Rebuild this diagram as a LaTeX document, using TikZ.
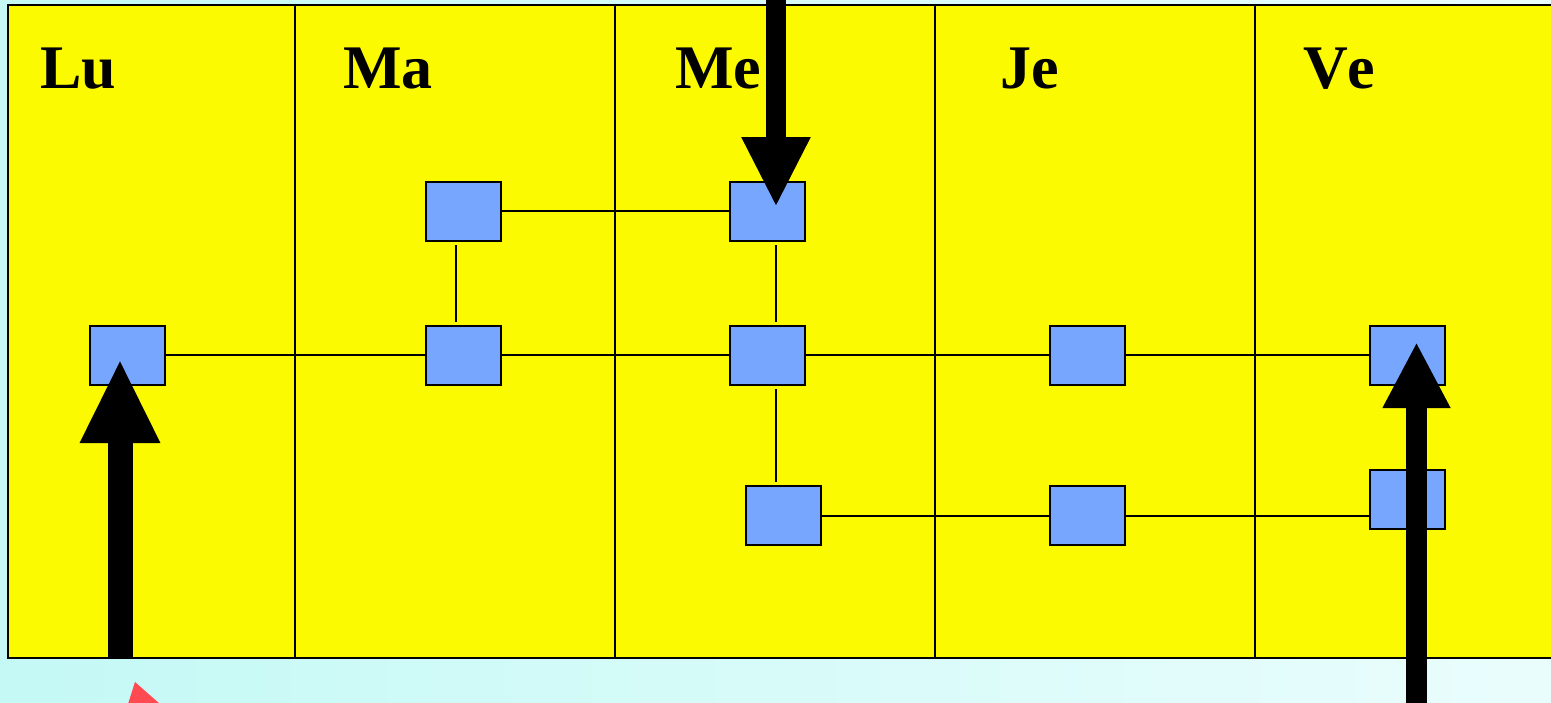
\documentclass[tikz,border=0pt]{standalone}
\usepackage{fontspec}
\setmainfont[Kerning=Off]{Liberation Serif}
\usetikzlibrary{arrows.meta}
\definecolor{bgL}{RGB}{196,249,245}
\definecolor{bgR}{RGB}{234,253,253}
\definecolor{yel}{RGB}{252,250,0}
\definecolor{boxblue}{RGB}{119,166,255}
\definecolor{redtip}{RGB}{255,74,82}
\tikzset{
  blk/.style={draw=black, line width=2.7pt, fill=boxblue, minimum width=75pt, minimum height=59pt, inner sep=0pt},
  day/.style={font=\fontsize{62}{70}\selectfont\bfseries, anchor=base west, inner sep=0pt},
  conn/.style={line width=2pt},
  vconn/.style={line width=2pt, shorten <=3pt, shorten >=3pt},
  divider/.style={line width=2pt},
  bigarrow/.style n args={3}{line width=#1, -{Triangle[length=#2,width=#3]}},
}
\begin{document}
\begin{tikzpicture}[x=1pt,y=-1pt]
\useasboundingbox (0,0) rectangle (1551,702);
\clip (0,0) rectangle (1551,702);
\shade[left color=bgL, right color=bgR] (0,0) rectangle (1551,702);
% board
\draw[line width=2.8pt, fill=yel] (8,5) rectangle (1570,658);
\foreach \x in {295,615,935,1255} \draw[divider] (\x,5) -- (\x,658);
% labels
\node[day] (lu) at (40,88) {Lu};
\node[day] (ma) at (343,88) {Ma};
\node[day] (me) at (675,88) {Me};
\node[day] (je) at (1000,88) {Je};
\node[day] (ve) at (1303,88) {Ve};
% boxes
\node[blk] (A) at (463.5,211.5) {};
\node[blk] (B) at (767.5,211.5) {};
\node[blk] (C) at (127.5,355.5) {};
\node[blk] (D) at (463.5,355.5) {};
\node[blk] (E) at (767.5,355.5) {};
\node[blk] (F) at (1087.5,355.5) {};
\node[blk] (G) at (1407.5,355.5) {};
\node[blk] (H) at (783.5,515.5) {};
\node[blk] (I) at (1087.5,515.5) {};
\node[blk] (J) at (1407.5,499.5) {};
% connectors
\draw[conn] (A.east |- 0,211) -- (B.west |- 0,211);
\draw[vconn] (A.south -| 456,0) -- (D.north -| 456,0);
\draw[vconn] (B.south -| 776,0) -- (E.north -| 776,0);
\draw[vconn] (E.south -| 776,0) -- (H.north -| 776,0);
\draw[conn] (C.east |- 0,355) -- (D.west |- 0,355);
\draw[conn] (D.east |- 0,355) -- (E.west |- 0,355);
\draw[conn] (E.east |- 0,355) -- (F.west |- 0,355);
\draw[conn] (F.east |- 0,355) -- (G.west |- 0,355);
\draw[conn] (H.east |- 0,516) -- (I.west |- 0,516);
\draw[conn] (I.east |- 0,516) -- (J.west |- 0,516);
% big arrows
\coordinate (topin) at (776,-2);
\coordinate (btip) at (776,207);
\coordinate (luin) at (120,658);
\coordinate (ctip) at (120,359);
\coordinate (vein) at (1416.5,710);
\coordinate (gtip) at (1416.5,342);
\draw[bigarrow={20pt}{70pt}{64pt}] (topin) -- (btip);
\draw[bigarrow={25pt}{84pt}{74pt}] (luin) -- (ctip);
\draw[bigarrow={21pt}{66pt}{63pt}] (vein) -- (gtip);
% red tip at bottom
\fill[redtip] (135,682) -- (160,704) -- (128,704) -- cycle;
\end{tikzpicture}
\end{document}
